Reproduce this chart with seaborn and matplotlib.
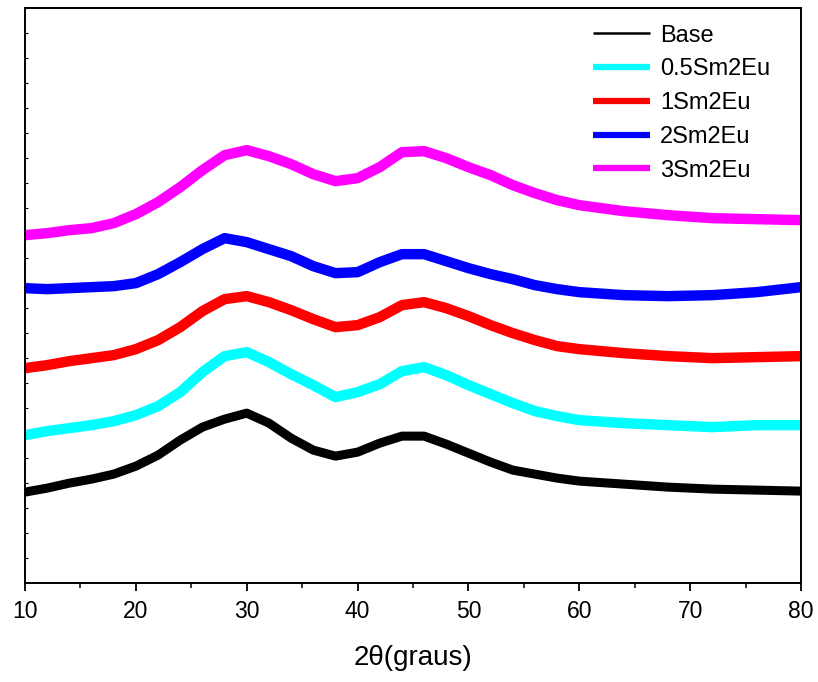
import matplotlib
matplotlib.use("Agg")
import matplotlib.pyplot as plt
import seaborn as sns
import pandas as pd
from matplotlib.ticker import MultipleLocator

sns.set_style("white")
plt.rcParams['font.family'] = ['Liberation Sans', 'DejaVu Sans']
plt.rcParams.update({"text.color": "black", "axes.labelcolor": "black",
                     "xtick.color": "black", "ytick.color": "black"})

two_theta = [10, 12, 14, 16, 18, 20, 22, 24, 26, 28, 30, 32, 34, 36, 38, 40,
             42, 44, 46, 48, 50, 52, 54, 56, 58, 60, 64, 68, 72, 76, 80]

# intensities (arbitrary units, stacked with offsets as shown)
base = [91, 95, 100, 104, 109, 117, 128, 143, 156, 164, 170, 160, 145, 133, 127, 131,
        140, 147, 147, 139, 130, 121, 113, 109, 105, 102, 99, 96, 94, 93, 92]
sm05 = [148, 152, 155, 158, 162, 168, 177, 191, 211, 227, 231, 221, 209, 198, 186, 191,
        199, 212, 216, 208, 198, 189, 180, 172, 167, 163, 160, 158, 156, 158, 158]
sm1 = [215, 218, 222, 225, 228, 234, 243, 256, 272, 284, 287, 281, 273, 264, 256, 258,
       266, 278, 281, 275, 267, 258, 250, 243, 237, 234, 230, 227, 225, 226, 227]
sm2 = [295, 294, 295, 296, 297, 300, 309, 321, 334, 345, 341, 334, 327, 317, 310, 311,
       321, 329, 329, 322, 315, 309, 304, 298, 294, 291, 288, 287, 288, 291, 296]
sm3 = [348, 350, 353, 355, 360, 369, 381, 396, 413, 428, 433, 427, 419, 409, 402, 405,
       416, 431, 432, 425, 416, 408, 398, 390, 383, 378, 372, 368, 365, 364, 363]

labels = ["Base", "0.5Sm2Eu", "1Sm2Eu", "2Sm2Eu", "3Sm2Eu"]
series = [base, sm05, sm1, sm2, sm3]
colors = ["#000000", "#00FFFF", "#FF0000", "#0000FF", "#FF00FF"]
widths = [6.5, 7.5, 7.5, 7.5, 7.5]

frames = [pd.DataFrame({"x": two_theta, "y": s, "sample": lab}) for lab, s in zip(labels, series)]
df = pd.concat(frames, ignore_index=True)

fig = plt.figure(figsize=(8.18, 6.82), dpi=100)
ax = fig.add_axes([0.0306, 0.145, 0.9487, 0.843])

for lab, col, lw in zip(labels, colors, widths):
    sns.lineplot(data=df[df["sample"] == lab], x="x", y="y", color=col, lw=lw,
                 ax=ax, label=lab, solid_joinstyle="round", solid_capstyle="round")

ax.set_xlim(10, 80)
ax.set_ylim(0, 575)
ax.xaxis.set_major_locator(MultipleLocator(10))
ax.xaxis.set_minor_locator(MultipleLocator(5))
ax.yaxis.set_major_locator(MultipleLocator(50))
ax.yaxis.set_minor_locator(MultipleLocator(25))
ax.tick_params(axis="x", which="major", direction="out", length=6, width=1.3,
               labelsize=16.5, pad=6, bottom=True)
ax.tick_params(axis="x", which="minor", direction="out", length=3.5, width=1.1, bottom=True)
ax.tick_params(axis="y", which="both", direction="in", length=2, width=0.8,
               left=True, labelleft=False)
for sp in ax.spines.values():
    sp.set_visible(True)
    sp.set_color("black")
    sp.set_linewidth(1.4)

ax.set_xlabel("2\u03b8(graus)", fontsize=20, labelpad=16)
ax.set_ylabel("")

leg = ax.legend(loc="upper left", frameon=False, fontsize=17, handlelength=2.4,
                handletextpad=0.42, labelspacing=0.5, borderaxespad=0.0,
                bbox_to_anchor=(0.72, 0.988))
for h, lw in zip(leg.get_lines(), [1.8, 4.5, 4.5, 4.5, 4.5]):
    h.set_linewidth(lw)
    h.set_solid_capstyle("butt")

fig.savefig("out.png", dpi=100)
